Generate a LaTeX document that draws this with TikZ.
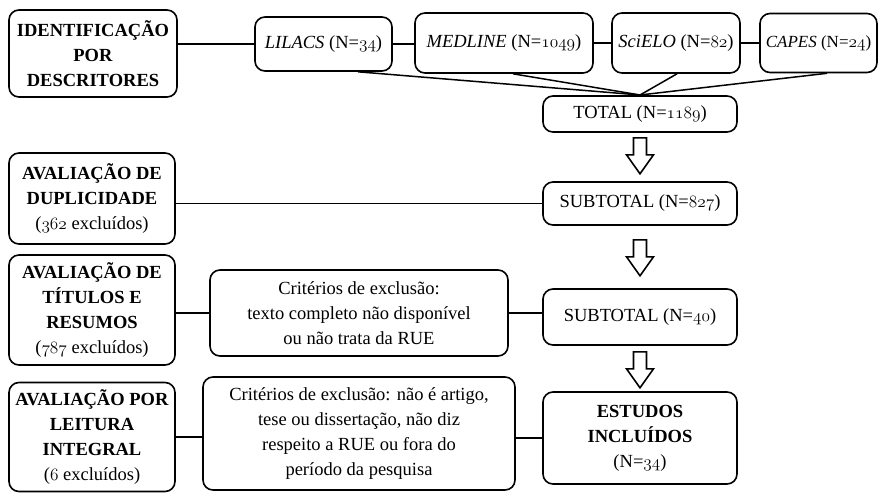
\documentclass[tikz,border=0pt]{standalone}
\usepackage{fontspec}
\setmainfont{Liberation Serif}
\usetikzlibrary{calc}
\makeatletter
\newcommand\osn[1]{{\usefont{OML}{cmm}{m}{it}#1}}
\makeatother
\tikzset{
  box/.style={draw, line width=1.6pt, rounded corners=10pt, align=center, inner sep=2pt,
    font=\fontsize{18.5}{25}\selectfont},
  conn/.style={line width=1.5pt},
  harrow/.pic={\draw[line width=1.6pt, line join=miter, fill=white]
    (-6.5,0) -- (6.5,0) -- (6.5,17) -- (13.5,17) -- (0,36) -- (-13.5,17) -- (-6.5,17) -- cycle;}
}
\begin{document}
\begin{tikzpicture}[x=1pt,y=-1pt]
\useasboundingbox (0,0) rectangle (878,493);
% top row
\node[box, minimum width=168pt, minimum height=87pt] (ident) at (93,53.5)
  {\textbf{IDENTIFICAÇÃO}\\\textbf{POR}\\\textbf{DESCRITORES}};
\node[box, minimum width=137pt, minimum height=54pt] (lilacs) at (323.5,44) {\textit{LILACS} (N=\osn{34})};
\node[box, minimum width=178pt, minimum height=60pt] (medline) at (504,43) {\textit{MEDLINE} (N=\osn{1049})};
\node[box, minimum width=128pt, minimum height=60pt] (scielo) at (676,43) {\textit{SciELO} (N=\osn{82})};
\node[box, minimum width=117pt, minimum height=59pt, inner sep=1pt, font=\fontsize{17}{25}\selectfont] (capes) at (818.5,43)
  {\textit{CAPES} (N=\osn{24})};
\node[box, minimum width=194pt, minimum height=36pt] (total) at (640,114) {TOTAL (N=\osn{1189})};
\coordinate (conv) at (640,95);

\draw[conn] (lilacs.west -| ident.east) -- (lilacs.west);
\draw[conn] (lilacs.east) -- (lilacs.east -| medline.west);
\draw[conn] (medline.east) -- (medline.east -| scielo.west);
\draw[conn] (scielo.east) -- (scielo.east -| capes.west);
\draw[conn] ([xshift=34.5pt]lilacs.south) -- (conv);
\draw[conn] ([xshift=9pt]medline.south) -- (conv);
\draw[conn] ([xshift=1pt]scielo.south) -- (conv);
\draw[conn] ([xshift=8.5pt]capes.south) -- (conv);

% right column
\node[box, minimum width=194pt, minimum height=43pt] (sub1) at (640,203.5) {SUBTOTAL (N=\osn{827})};
\node[box, minimum width=194pt, minimum height=56pt] (sub2) at (640,317) {SUBTOTAL (N=\osn{40})};
\node[box, minimum width=194pt, minimum height=92pt] (estudos) at (640,438)
  {\textbf{ESTUDOS}\\\textbf{INCLUÍDOS}\\(N=\osn{34})};
\pic at ([yshift=-5pt]total.south) {harrow};
\pic at ([yshift=-14pt]sub1.south) {harrow};
\pic at ([yshift=-6pt]sub2.south) {harrow};

% left column
\node[box, minimum width=166pt, minimum height=91pt] (dup) at (92,198.5)
  {\textbf{AVALIAÇÃO DE}\\\textbf{DUPLICIDADE}\\(\osn{362} excluídos)};
\node[box, minimum width=166pt, minimum height=110pt] (tit) at (92,310)
  {\textbf{AVALIAÇÃO DE}\\\textbf{TÍTULOS E}\\\textbf{RESUMOS}\\(\osn{787} excluídos)};
\node[box, minimum width=166pt, minimum height=109pt] (leit) at (92,437)
  {\textbf{AVALIAÇÃO POR}\\\textbf{LEITURA}\\\textbf{INTEGRAL}\\(\osn{6} excluídos)};
\node[box, minimum width=298pt, minimum height=86pt] (crit1) at (359,313)
  {Critérios de exclusão:\\texto completo não disponível\\ou não trata da RUE};
\node[box, minimum width=312pt, minimum height=113pt] (crit2) at (359,433.5)
  {Critérios de exclusão: não é artigo,\\tese ou dissertação, não diz\\respeito a RUE ou fora do\\período da pesquisa};

\draw[conn] (dup.east |- sub1.west) -- (sub1.west);
\draw[conn] (crit1.west -| tit.east) -- (crit1.west);
\draw[conn] (crit1.east) -- (crit1.east -| sub2.west);
\draw[conn] (leit.east) -- (leit.east -| crit2.west);
\draw[conn] (estudos.west -| crit2.east) -- (estudos.west);
\end{tikzpicture}
\end{document}
